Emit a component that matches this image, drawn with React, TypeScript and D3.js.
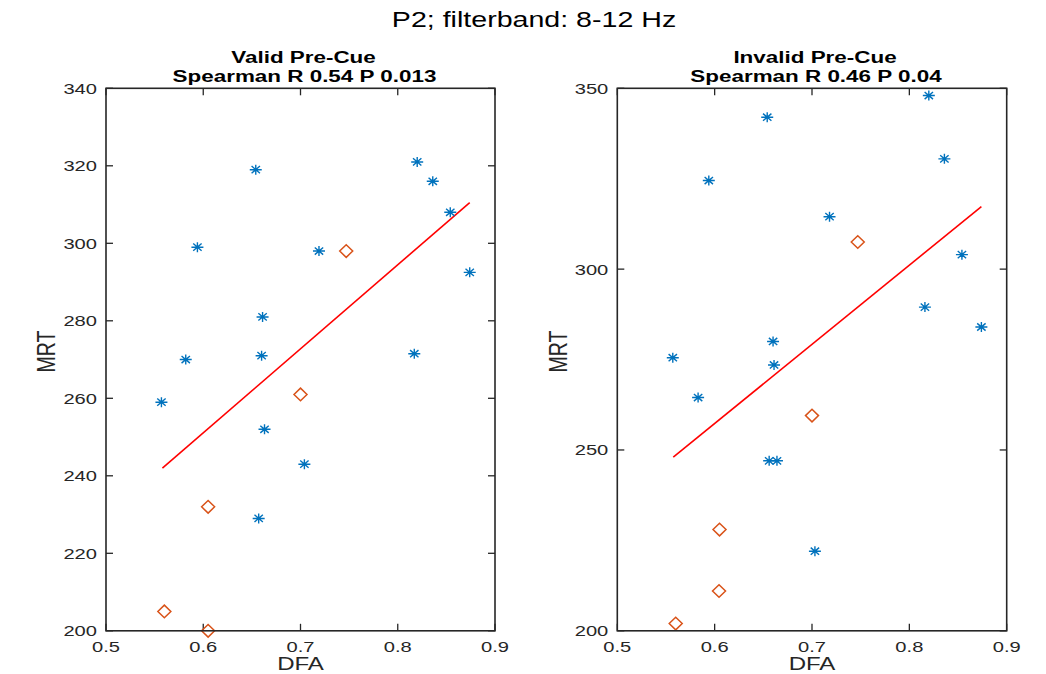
import React from "react";
import * as d3 from "d3";

// tick values
const dfaTicks = [0.5, 0.6, 0.7, 0.8, 0.9];
const validTicks = [200, 220, 240, 260, 280, 300, 320, 340];
const invalidTicks = [200, 250, 300, 350];

// Valid Pre-Cue
const validStarDFA = [0.557, 0.582, 0.594, 0.654, 0.660, 0.663, 0.661, 0.657, 0.719, 0.704, 0.820, 0.836, 0.854, 0.874, 0.817];
const validStarMRT = [259, 270, 299, 319, 271, 252, 281, 229, 298, 243, 321, 316, 308, 292.5, 271.5];
const validDiamondDFA = [0.560, 0.605, 0.605, 0.700, 0.747];
const validDiamondMRT = [205, 232, 200, 261, 298];
const validFitDFA = [0.558, 0.874];
const validFitMRT = [242, 310.5];

// Invalid Pre-Cue
const invalidStarDFA = [0.654, 0.820, 0.836, 0.594, 0.718, 0.854, 0.816, 0.874, 0.557, 0.660, 0.661, 0.583, 0.656, 0.664, 0.703];
const invalidStarMRT = [342, 348, 330.5, 324.5, 314.5, 304, 289.5, 284, 275.5, 280, 273.5, 264.5, 247, 247, 222];
const invalidDiamondDFA = [0.560, 0.6045, 0.605, 0.700, 0.747];
const invalidDiamondMRT = [202, 211, 228, 259.5, 307.5];
const invalidFitDFA = [0.5575, 0.874];
const invalidFitMRT = [248, 317.3];

const font = "'Liberation Sans', Arial, Helvetica, sans-serif";
const axisColor = "#262626";
const SX = 1.3; // the figure text is stretched horizontally

type TxtProps = {
  x: number;
  y: number;
  size: number;
  anchor?: string;
  weight?: string;
  rotate?: boolean;
  fill?: string;
  sx?: number;
  children: React.ReactNode;
};

const Txt = ({ x, y, size, anchor = "middle", weight = "normal", rotate = false, fill = axisColor, sx = SX, children }: TxtProps) => (
  <text
    transform={`translate(${x},${y}) scale(${sx},1)${rotate ? " rotate(-90)" : ""}`}
    textAnchor={anchor}
    fontSize={size}
    fontWeight={weight}
    fontFamily={font}
    fill={fill}
  >
    {children}
  </text>
);

type PanelProps = {
  left: number;
  right: number;
  top: number;
  bottom: number;
  yDomain: [number, number];
  yTicks: number[];
  starX: number[];
  starY: number[];
  diaX: number[];
  diaY: number[];
  fitX: number[];
  fitY: number[];
  title1: string;
  title2: string;
  ylabelX: number;
};

const Panel = (p: PanelProps) => {
  const x = d3.scaleLinear().domain([0.5, 0.9]).range([p.left, p.right]);
  const y = d3.scaleLinear().domain(p.yDomain).range([p.bottom, p.top]);
  const tick = 7;
  const line = d3
    .line<number>()
    .x((d) => x(d))
    .y((d, i) => y(p.fitY[i]));
  const mid = (p.left + p.right) / 2;

  return (
    <g>
      <Txt x={mid + 3} y={63} size={17} weight="bold" fill="#000" sx={1.32}>
        {p.title1}
      </Txt>
      <Txt x={mid + 4} y={82} size={17} weight="bold" fill="#000" sx={1.32}>
        {p.title2}
      </Txt>

      {/* ticks */}
      {dfaTicks.map((t) => (
        <g key={"x" + t}>
          <line x1={x(t)} x2={x(t)} y1={p.bottom} y2={p.bottom - tick} stroke={axisColor} strokeWidth={1.3} />
          <line x1={x(t)} x2={x(t)} y1={p.top} y2={p.top + tick} stroke={axisColor} strokeWidth={1.3} />
          <Txt x={x(t)} y={p.bottom + 21} size={15.5}>
            {d3.format(".1f")(t)}
          </Txt>
        </g>
      ))}
      {p.yTicks.map((t) => (
        <g key={"y" + t}>
          <line x1={p.left} x2={p.left + tick} y1={y(t)} y2={y(t)} stroke={axisColor} strokeWidth={1.3} />
          <line x1={p.right} x2={p.right - tick} y1={y(t)} y2={y(t)} stroke={axisColor} strokeWidth={1.3} />
          <Txt x={p.left - 9} y={y(t) + 5.5} size={15.5} anchor="end">
            {t}
          </Txt>
        </g>
      ))}

      <Txt x={mid} y={670} size={18.5}>
        DFA
      </Txt>
      <Txt x={p.ylabelX} y={(p.top + p.bottom) / 2 - 8} size={19.5} rotate>
        MRT
      </Txt>

      {/* fit line */}
      <path d={line(p.fitX) || ""} fill="none" stroke="#ff0000" strokeWidth={1.6} />

      {/* stars */}
      {p.starX.map((d, i) => {
        const cx = x(d);
        const cy = y(p.starY[i]);
        return (
          <path
            key={"s" + i}
            d={`M${cx - 6},${cy}H${cx + 6}M${cx},${cy - 5}V${cy + 5}M${cx - 4.2},${cy - 3.6}L${cx + 4.2},${cy + 3.6}M${cx - 4.2},${cy + 3.6}L${cx + 4.2},${cy - 3.6}`}
            stroke="#0072BD"
            strokeWidth={1.4}
            fill="none"
          />
        );
      })}

      {/* diamonds */}
      {p.diaX.map((d, i) => {
        const cx = x(d);
        const cy = y(p.diaY[i]);
        return (
          <path
            key={"d" + i}
            d={`M${cx},${cy - 6.3}L${cx + 6.5},${cy}L${cx},${cy + 6.3}L${cx - 6.5},${cy}Z`}
            stroke="#D95319"
            strokeWidth={1.5}
            fill="none"
          />
        );
      })}

      {/* box */}
      <rect
        x={p.left}
        y={p.top}
        width={p.right - p.left}
        height={p.bottom - p.top}
        fill="none"
        stroke={axisColor}
        strokeWidth={1.6}
      />
    </g>
  );
};

const App = () => {
  return (
    <svg
      width={1046}
      height={674}
      style={{ position: "absolute", left: 0, top: 0, background: "#fff" }}
    >
      <rect width={1046} height={674} fill="#fff" />
      <Txt x={534} y={27} size={21.5} fill="#000" sx={1.33}>
        P2; filterband: 8-12 Hz
      </Txt>
      <Panel
        left={106}
        right={495}
        top={88.3}
        bottom={630.8}
        yDomain={[200, 340]}
        yTicks={validTicks}
        starX={validStarDFA}
        starY={validStarMRT}
        diaX={validDiamondDFA}
        diaY={validDiamondMRT}
        fitX={validFitDFA}
        fitY={validFitMRT}
        title1="Valid Pre-Cue"
        title2="Spearman R 0.54 P 0.013"
        ylabelX={55}
      />
      <Panel
        left={617.3}
        right={1006.7}
        top={88.3}
        bottom={630.8}
        yDomain={[200, 350]}
        yTicks={invalidTicks}
        starX={invalidStarDFA}
        starY={invalidStarMRT}
        diaX={invalidDiamondDFA}
        diaY={invalidDiamondMRT}
        fitX={invalidFitDFA}
        fitY={invalidFitMRT}
        title1="Invalid Pre-Cue"
        title2="Spearman R 0.46 P 0.04"
        ylabelX={567}
      />
    </svg>
  );
};

export default App;
